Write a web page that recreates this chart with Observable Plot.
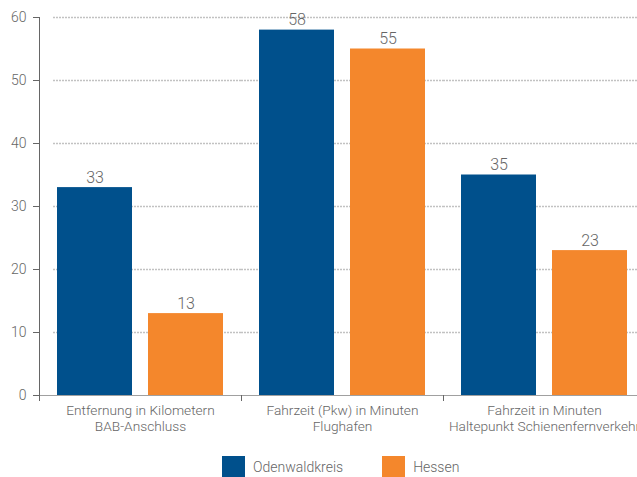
<!DOCTYPE html>
<html><head><meta charset="utf-8">
<script src="https://cdn.jsdelivr.net/npm/d3@7"></script>
<script src="https://cdn.jsdelivr.net/npm/@observablehq/plot@0.6"></script>
<style>
body{margin:0;background:#fff;font-family:Roboto, sans-serif;}
#wrap{position:relative;width:637px;height:477px;overflow:hidden;}
#chart{position:absolute;left:0;top:0;}
#chart svg{max-width:none !important;}
#legend{position:absolute;left:222px;top:456px;display:flex;align-items:center;font-size:14px;color:#666;font-weight:300;}
.item{display:flex;align-items:center;margin-right:39px;}
.sw{width:23px;height:22px;display:inline-block;margin-right:8px;}
</style></head><body>
<div id="wrap"><div id="chart"></div><div id="legend"></div></div>
<script>
const categories = ["Entfernung in Kilometern\nBAB-Anschluss", "Fahrzeit (Pkw) in Minuten\nFlughafen", "Fahrzeit in Minuten\nHaltepunkt Schienenfernverkehr"];
const seriesNames = ["Odenwaldkreis", "Hessen"];
const odenwaldValues = [33, 58, 35];
const hessenValues = [13, 55, 23];
const yTicks = [0, 10, 20, 30, 40, 50, 60];
const colors = ["#00508c", "#f4872c"];

const data = [];
categories.forEach((c, i) => {
  data.push({cat: c, series: seriesNames[0], value: odenwaldValues[i]});
  data.push({cat: c, series: seriesNames[1], value: hessenValues[i]});
});
const gridVals = yTicks.filter(d => d > 0);
const gridFirst = gridVals.map(v => ({cat: categories[0], v}));
const gridRest = categories.slice(1).flatMap(c => gridVals.map(v => ({cat: c, v})));

const W = 645, ML = 39, MT = 17, H = 450, MB = 55;
const step = (W - ML) / categories.length;

const chart = Plot.plot({
  width: W, height: H,
  marginLeft: ML, marginRight: 0, marginTop: MT, marginBottom: MB,
  style: {fontFamily: "Roboto, sans-serif", background: "#fff", maxWidth: "none", fontWeight: 300},
  fx: {domain: categories, padding: 0, label: null},
  x: {domain: seriesNames, paddingInner: 0.174, paddingOuter: 0.185, axis: null},
  y: {domain: [0, 60], label: null},
  color: {domain: seriesNames, range: colors},
  marks: [
    Plot.ruleY(gridFirst, {fx: "cat", y: "v", stroke: "#c2c2c2", strokeWidth: 1.5, strokeDasharray: "2,1", insetLeft: 14}),
    Plot.ruleY(gridRest, {fx: "cat", y: "v", stroke: "#c2c2c2", strokeWidth: 1.5, strokeDasharray: "2,1"}),
    Plot.barY(data, {fx: "cat", x: "series", y: "value", fill: "series"}),
    Plot.text(data, {fx: "cat", x: "series", y: "value", text: d => String(d.value), lineAnchor: "bottom", dy: -5, fill: "#666", fontSize: 16, fontWeight: 300}),
    Plot.ruleY([0], {stroke: "#a0a0a0"}),
    Plot.frame({anchor: "left", fx: [categories[0]], stroke: "#666"}),
    Plot.axisY({ticks: yTicks, tickSize: 6, tickPadding: 7, fontSize: 14, stroke: "#666", fill: "#666", label: null, fontWeight: 300}),
    Plot.axisFx({anchor: "bottom", tickSize: 6, tickFormat: null, dx: -step / 2, stroke: "#666", label: null}),
    Plot.axisFx({anchor: "bottom", tickSize: 0, tickPadding: 8, fontSize: 13.7, lineHeight: 1.17, fill: "#666", label: null, fontWeight: 300})
  ]
});
document.getElementById("chart").appendChild(chart);

const legend = document.getElementById("legend");
seriesNames.forEach((s, i) => {
  const it = document.createElement("div");
  it.className = "item";
  it.innerHTML = `<span class="sw" style="background:${colors[i]}"></span><span>${s}</span>`;
  legend.appendChild(it);
});
</script>
</body></html>
